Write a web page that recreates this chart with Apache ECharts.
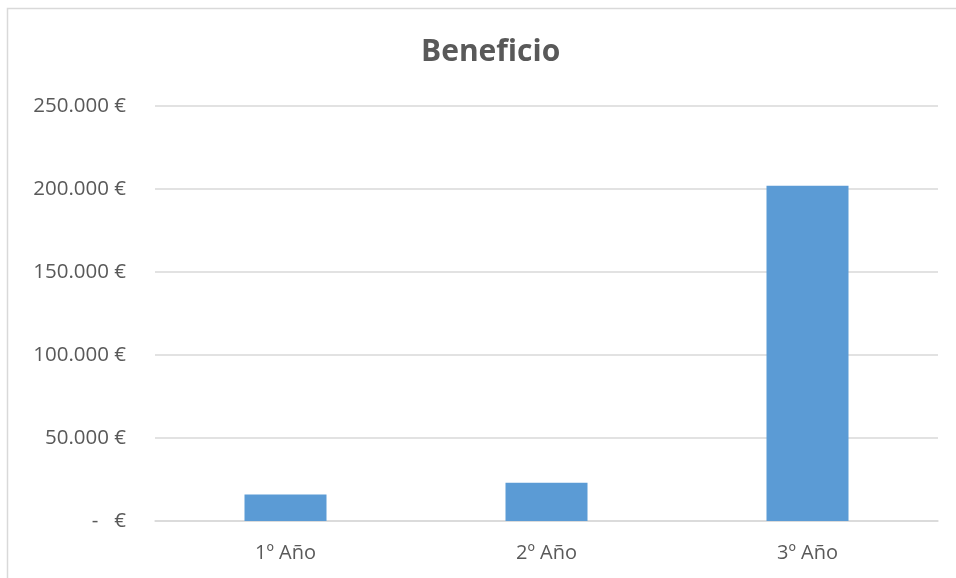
<!DOCTYPE html>
<html>
<head>
<meta charset="utf-8">
<script src="https://cdn.jsdelivr.net/npm/echarts@6/dist/echarts.min.js"></script>
<style>html,body{margin:0;padding:0;background:#fff}#c{width:956px;height:578px}</style>
</head>
<body>
<div id="c"></div>
<script>
const categories = ['1º Año', '2º Año', '3º Año'];
const beneficio = [16000, 23000, 202000];
const yTicks = [0, 50000, 100000, 150000, 200000, 250000];

function fmt(v) {
  if (v === 0) return '-   €';
  return String(v).replace(/\B(?=(\d{3})+(?!\d))/g, '.') + ' €';
}

const chart = echarts.init(document.getElementById('c'));
chart.setOption({
  backgroundColor: '#ffffff',
  animation: false,
  title: {
    text: 'Beneficio',
    left: 416,
    top: 32,
    textStyle: { fontFamily: 'Open Sans', fontWeight: 'bold', fontSize: 30, color: '#595959' }
  },
  graphic: [{
    type: 'rect',
    shape: { x: 7.5, y: 8.5, width: 1000, height: 1000 },
    style: { fill: 'none', stroke: '#d9d9d9', lineWidth: 1.5 },
    silent: true
  }],
  grid: { left: 155, right: 18, top: 106, bottom: 57, containLabel: false },
  xAxis: {
    type: 'category',
    data: categories,
    axisLine: { show: true, lineStyle: { color: '#d9d9d9', width: 1.5 } },
    axisTick: { show: false },
    axisLabel: { margin: 22, fontFamily: 'Open Sans', fontSize: 20, color: '#595959' }
  },
  yAxis: {
    type: 'value',
    min: yTicks[0],
    max: yTicks[yTicks.length - 1],
    interval: 50000,
    axisLine: { show: false },
    axisTick: { show: false },
    splitLine: { lineStyle: { color: '#d9d9d9', width: 1.5 } },
    axisLabel: { margin: 29, fontFamily: 'Open Sans', fontSize: 20.5, color: '#595959', formatter: fmt }
  },
  series: [{
    type: 'bar',
    data: beneficio,
    barWidth: 82,
    itemStyle: { color: '#5b9bd5' }
  }]
});
</script>
</body>
</html>
